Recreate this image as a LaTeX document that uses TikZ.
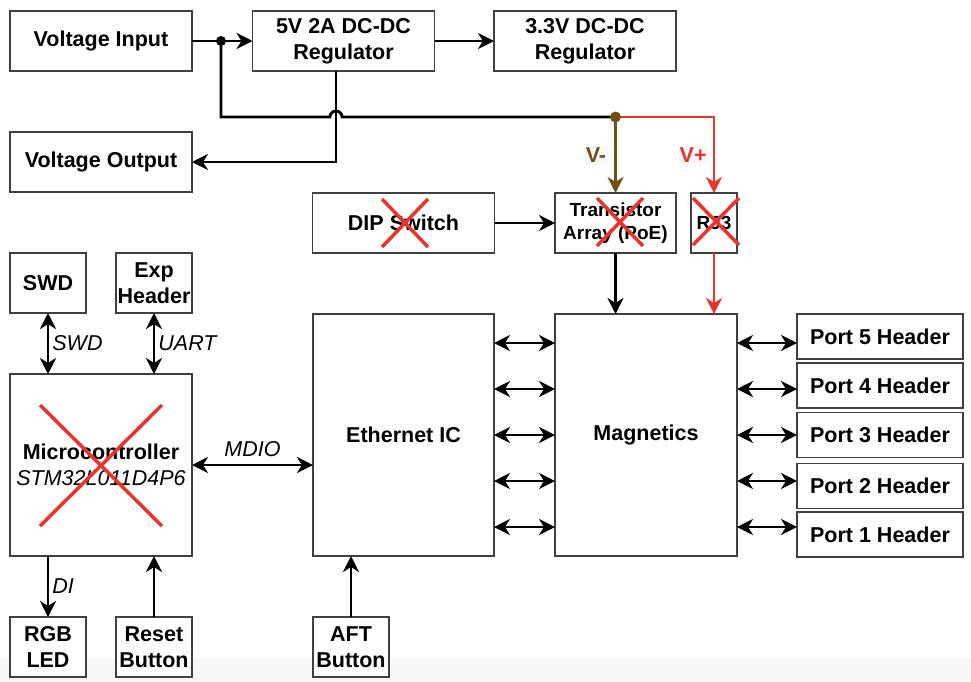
\documentclass[tikz,border=0pt]{standalone}
\usepackage{fontspec}
\setmainfont{Liberation Sans}
\usetikzlibrary{arrows.meta,positioning,calc}
\definecolor{vneg}{RGB}{110,80,22}
\definecolor{vpos}{RGB}{232,52,42}

\begin{document}
\begin{tikzpicture}[x=1pt, y=-1pt,
    box/.style={rectangle, draw=black!75, line width=1.4pt, fill=white, inner sep=0pt, outer sep=0pt, align=center, font=\fontsize{21.5}{26}\selectfont\bfseries},
    big/.style={box, minimum width=182pt, minimum height=60pt},
    small/.style={box, minimum width=76pt, minimum height=60pt},
    port/.style={box, minimum width=166pt, minimum height=45pt},
    wire/.style={line width=2.8pt, >={Stealth[length=16pt, width=16pt, inset=5pt]}},
    sig/.style={font=\fontsize{21.5}{26}\selectfont\itshape, inner sep=3pt},
    rail/.style={font=\fontsize{21.5}{26}\selectfont\bfseries, fill=gray!6, inner sep=2pt},
    strike/.style={line width=3.5pt, vpos}
]
    \useasboundingbox (0,0) rectangle (971,681);
    \fill[gray!6] (0,658) rectangle (971,681);

    % power
    \node[big] (vin) at (101,41) {Voltage Input};
    \node[big] (reg5) at (343.5,41) {5V 2A DC-DC\\Regulator};
    \node[big] (reg33) at (585,41) {3.3V DC-DC\\Regulator};
    \node[big] (vout) at (101,162) {Voltage Output};

    \node[big] (dip) at (403.5,223) {DIP Switch};
    \node[box, minimum width=121pt, minimum height=60pt, font=\fontsize{19}{23}\selectfont\bfseries] (trans) at (615.5,223) {Transistor\\Array (PoE)};
    \node[box, minimum width=46pt, minimum height=60pt, font=\fontsize{19}{23}\selectfont\bfseries] (rj3) at (714,223) {RJ3};

    % mcu side
    \node[small] (swd) at (48,283) {SWD};
    \node[small] (exp) at (154,283) {Exp\\Header};
    \node[box, minimum width=182pt, minimum height=182pt] (mcu) at (101,465) {Microcontroller\\{\mdseries\itshape STM32L011D4P6}};
    \node[small] (rgb) at (48,647) {RGB\\LED};
    \node[small] (reset) at (154,647) {Reset\\Button};

    % ethernet
    \node[box, minimum width=181pt, minimum height=242pt] (eth) at (403.5,435) {Ethernet IC};
    \node[box, minimum width=182pt, minimum height=242pt] (mag) at (646,435) {Magnetics};
    \node[small] (aft) at (351,647) {AFT\\Button};

    \node[port] (port5) at (880,336.5) {Port 5 Header};
    \node[port] (port4) at (880,385.5) {Port 4 Header};
    \node[port] (port3) at (880,435) {Port 3 Header};
    \node[port] (port2) at (880,486) {Port 2 Header};
    \node[port] (port1) at (880,534.5) {Port 1 Header};

    \coordinate (split) at (221,41);
    \coordinate (junc) at (615.5,117);
    \coordinate (tap) at ([xshift=-7.5pt]reg5.south);

    \draw[wire,->] (vin) -- (reg5);
    \draw[wire,->] (reg5) -- (reg33);
    \draw[wire,->] (tap) |- (vout.east);
    \draw[wire] (split) |- ($(tap |- junc)+(-6,0)$) arc[start angle=180, end angle=0, radius=6pt] -- (junc);
    \fill (split) circle (5pt);

    \draw[wire,vneg,->] (junc) -- node[rail, left=6pt, text=vneg] {V-} (junc |- trans.north);
    \draw[wire,vpos,->] (junc) -| node[rail, pos=0.75, left=4pt, text=vpos] {V+} (rj3.north);
    \fill[vneg] (junc) circle (5.5pt);

    \draw[wire,->] (dip) -- (trans);
    \draw[wire,->] (trans.south) -- (trans.south |- mag.north);
    \draw[wire,vpos,->] (rj3.south) -- (rj3.south |- mag.north);

    \draw[wire,<->] (swd.south) -- node[sig, right] {SWD} (swd.south |- mcu.north);
    \draw[wire,<->] (exp.south) -- node[sig, right] {UART} (exp.south |- mcu.north);
    \draw[wire,<->] (mcu.east) -- node[sig, above=4pt] {MDIO} (mcu.east -| eth.west);
    \draw[wire,->] (rgb.north |- mcu.south) -- node[sig, right] {DI} (rgb.north);
    \draw[wire,->] (reset.north) -- (reset.north |- mcu.south);
    \draw[wire,->] (aft.north) -- (aft.north |- eth.south);

    \foreach \dy in {92,46,0,-46,-92}
        \draw[wire,<->] ([yshift=\dy pt]eth.east) -- ([yshift=\dy pt]mag.west);
    \foreach \i/\dy in {5/92,4/46,3/0,2/-46,1/-92}
        \draw[wire,<->] ([yshift=\dy pt]mag.east) -- ([yshift=\dy pt]mag.east -| port\i.west);

    % crossed out parts
    \draw[strike] (382,199) -- (428,247) (428,199) -- (382,247);
    \draw[strike] (597,198) -- (643,246) (643,198) -- (597,246);
    \draw[strike] (693,198) -- (739,245) (739,198) -- (693,245);
    \draw[strike] (40,405) -- (162,526) (162,405) -- (40,526);
\end{tikzpicture}
\end{document}
